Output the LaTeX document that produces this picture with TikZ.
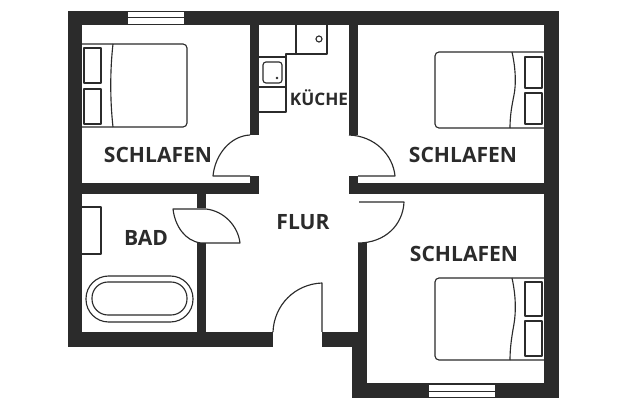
\documentclass[tikz,border=0pt]{standalone}
\usepackage{fontspec}
\setmainfont{Open Sans}[BoldFont={Open Sans Bold}]
\definecolor{wallc}{HTML}{2B2B2B}
\tikzset{
  wall/.style={fill=wallc,draw=none},
  fine/.style={draw=wallc,line width=0.85pt,line join=round},
  lab/.style={text=wallc,font=\bfseries\fontsize{15.8}{17}\selectfont,inner sep=0pt},
  labk/.style={text=wallc,font=\bfseries\fontsize{12.9}{14}\selectfont,inner sep=0pt}
}
\begin{document}
\begin{tikzpicture}[x=0.75pt,y=-0.75pt]
\useasboundingbox (0,0) rectangle (626,417);
\fill[white] (0,0) rectangle (626,417);
% outer walls
\fill[wall] (68,11) rectangle (559,25);
\fill[wall] (68,11) rectangle (82,347);
\fill[wall] (544,11) rectangle (559,398);
\fill[wall] (68,332) rectangle (273,347);
\fill[wall] (322,332) rectangle (367,347);
\fill[wall] (352,332) rectangle (367,398);
\fill[wall] (352,383) rectangle (559,398);
% inner walls
\fill[wall] (250,25) rectangle (259,135);
\fill[wall] (349,25) rectangle (358,135);
\fill[wall] (250,176) rectangle (259,194);
\fill[wall] (349,176) rectangle (358,194);
\fill[wall] (82,183) rectangle (259,194);
\fill[wall] (349,183) rectangle (544,194);
\fill[wall] (197,194) rectangle (206,208);
\fill[wall] (197,243) rectangle (206,332);
\fill[wall] (358,243) rectangle (367,332);
% windows
\fill[white] (128,12) rectangle (184,24);
\draw[fine] (128,17.3) -- (184,17.3);
\fill[white] (429,385) rectangle (495,397);
\draw[fine] (429,391.3) -- (495,391.3);
% doors
\draw[fine,fill=white] (250,135) .. controls (230,136) and (215,155) .. (213,176) -- (250,176);
\draw[fine,fill=white] (358,176) -- (395,176) .. controls (393,155) and (375,136) .. (349,135);
\draw[fine,fill=white] (173,209) -- (206,209) .. controls (224,211) and (238,226) .. (240,243) -- (201,243) .. controls (185,241) and (175,226) .. (173,209) -- cycle;
\draw[fine,fill=white] (359,202) -- (404,202) .. controls (403,225) and (385,243) .. (358,243);
\draw[fine,fill=white] (273,332) .. controls (274,305) and (295,284) .. (322,283) -- (322,332);
\fill[white] (274,332) rectangle (321.6,347);
% bed 1
\draw[fine] (82,44) -- (183,44) to[out=0,in=90] (187,48) -- (187,123) to[out=-90,in=0] (183,127) -- (82,127);
\draw[fine] (113,44) .. controls (110,70) and (110,100) .. (113,127);
\draw[fine] (84,48) rectangle (101,83);
\draw[fine] (84,89) rectangle (101,124);
% bed 2
\draw[fine] (544,52) -- (439,52) to[out=180,in=90] (435,56) -- (435,124) to[out=-90,in=180] (439,128) -- (544,128);
\draw[fine] (512,52) .. controls (516,70) and (516,85) .. (514,95) .. controls (512,105) and (510,115) .. (510,128);
\draw[fine] (525,57) rectangle (542,88);
\draw[fine] (525,93) rectangle (542,124);
% bed 3
\draw[fine] (544,278) -- (439,278) to[out=180,in=90] (435,282) -- (435,356) to[out=-90,in=180] (439,360) -- (544,360);
\draw[fine] (512,278) .. controls (516,296) and (516,312) .. (514,324) .. controls (512,335) and (510,347) .. (510,360);
\draw[fine] (525,282) rectangle (542,316);
\draw[fine] (525,321) rectangle (542,356);
% kitchen
\draw[fine] (296,25) -- (296,54);
\draw[fine] (327,25) -- (327,54) -- (286,54) -- (286,112) -- (259,112);
\draw[fine] (259,57) -- (286,57);
\draw[fine] (259,87) -- (286,87);
\draw[fine,rounded corners=2.2pt] (263,62) rectangle (282,83);
\fill[wallc] (277,78) circle (1.3);
\draw[fine] (319,39) circle (3);
% bathroom
\draw[fine] (82,207) -- (101,207) -- (101,254) -- (82,254);
\draw[fine,rounded corners=17pt] (86,276) rectangle (193,322);
\draw[fine,rounded corners=12pt] (92,282) rectangle (187,315);
% labels
\node[lab] (schlafenA) at (158,155) {SCHLAFEN};
\node[lab] (schlafenB) at (463,155) {SCHLAFEN};
\node[lab] (schlafenC) at (464,254) {SCHLAFEN};
\node[lab] (bad) at (146,238) {BAD};
\node[lab] (flur) at (303,222) {FLUR};
\node[labk] (kueche) at (319,98) {KÜCHE};
\end{tikzpicture}
\end{document}
